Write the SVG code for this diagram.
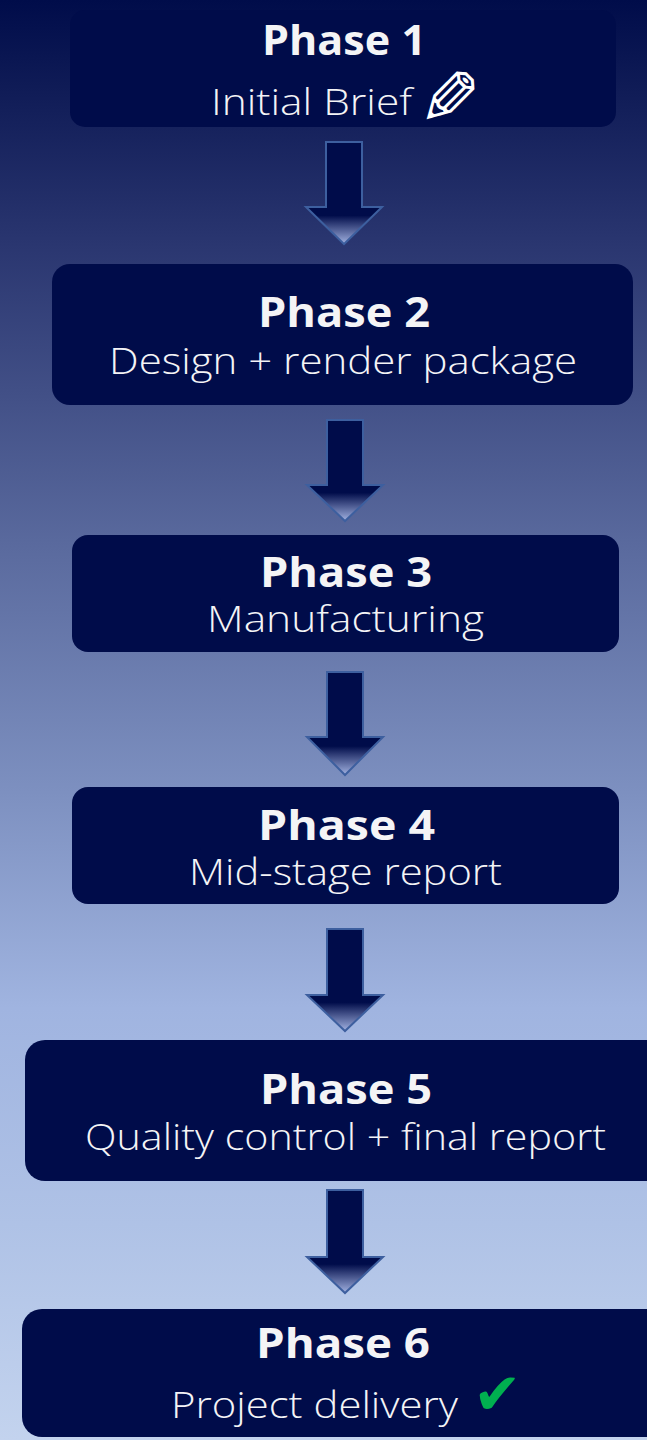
<svg xmlns="http://www.w3.org/2000/svg" width="647" height="1440" viewBox="0 0 647 1440">
<defs>
<linearGradient id="bg" x1="0" y1="0" x2="0" y2="1">
<stop offset="0" stop-color="#000c4a"/>
<stop offset="0.06" stop-color="#0f1b56"/>
<stop offset="0.17" stop-color="#2a3670"/>
<stop offset="0.38" stop-color="#5a6a9e"/>
<stop offset="0.55" stop-color="#7d90c0"/>
<stop offset="0.70" stop-color="#a0b4e0"/>
<stop offset="0.85" stop-color="#afc2e6"/>
<stop offset="1" stop-color="#c3d3ee"/>
</linearGradient>
<linearGradient id="arw" x1="0" y1="0" x2="0" y2="1">
<stop offset="0" stop-color="#000c4a"/>
<stop offset="0.72" stop-color="#000c4a"/>
<stop offset="1" stop-color="#a3b3e2"/>
</linearGradient>
<style>
.box{fill:#000c4a;}
.t{font-family:"Open Sans","Liberation Sans",sans-serif;font-weight:700;font-size:41px;fill:#f4f4f6;}
.s{font-family:"Open Sans","Liberation Sans",sans-serif;font-weight:300;font-size:36px;fill:#f4f4f6;}
.arrow{fill:url(#arw);stroke:#3d5f9f;stroke-width:2;stroke-linejoin:miter;}
</style>
</defs>
<rect x="0" y="0" width="647" height="1440" fill="url(#bg)"/>

<g id="connectors">
<polygon class="arrow" points="326,142 362,142 362,207 382,207 344,244 306,207 326,207"/>
<polygon class="arrow" points="327,420 363,420 363,485 383,485 345,521 307,485 327,485"/>
<polygon class="arrow" points="327,672 363,672 363,737 383,737 345,775 307,737 327,737"/>
<polygon class="arrow" points="327,929 363,929 363,995 383,995 345,1031 307,995 327,995"/>
<polygon class="arrow" points="327,1190 363,1190 363,1257 383,1257 345,1293 307,1257 327,1257"/>
</g>

<g id="phase1">
<rect class="box" x="70" y="10" width="546" height="117" rx="15"/>
<text class="t" x="262" y="55" textLength="164" lengthAdjust="spacingAndGlyphs">Phase 1</text>
<text class="s" x="211" y="115" textLength="201" lengthAdjust="spacingAndGlyphs">Initial Brief</text>
<text x="-481" y="125" transform="scale(-1,1)" font-family="DejaVu Sans,sans-serif" font-size="75" fill="#ffffff">✎</text>
</g>

<g id="phase2">
<rect class="box" x="52" y="264" width="581" height="141" rx="18"/>
<text class="t" x="258" y="327" textLength="172" lengthAdjust="spacingAndGlyphs">Phase 2</text>
<text class="s" x="109" y="374" textLength="468" lengthAdjust="spacingAndGlyphs">Design + render package</text>
</g>

<g id="phase3">
<rect class="box" x="72" y="535" width="547" height="117" rx="16"/>
<text class="t" x="260" y="587" textLength="172" lengthAdjust="spacingAndGlyphs">Phase 3</text>
<text class="s" x="207" y="632" textLength="277" lengthAdjust="spacingAndGlyphs">Manufacturing</text>
</g>

<g id="phase4">
<rect class="box" x="72" y="787" width="547" height="117" rx="16"/>
<text class="t" x="258" y="840" textLength="177" lengthAdjust="spacingAndGlyphs">Phase 4</text>
<text class="s" x="189" y="885" textLength="313" lengthAdjust="spacingAndGlyphs">Mid-stage report</text>
</g>

<g id="phase5">
<rect class="box" x="25" y="1040" width="640" height="141" rx="20"/>
<text class="t" x="260" y="1104" textLength="172" lengthAdjust="spacingAndGlyphs">Phase 5</text>
<text class="s" x="85" y="1150" textLength="521" lengthAdjust="spacingAndGlyphs">Quality control + final report</text>
</g>

<g id="phase6">
<rect class="box" x="22" y="1309" width="645" height="128" rx="20"/>
<text class="t" x="256" y="1358" textLength="174" lengthAdjust="spacingAndGlyphs">Phase 6</text>
<text class="s" x="171" y="1418" textLength="287" lengthAdjust="spacingAndGlyphs">Project delivery</text>
<text x="473" y="1414" font-family="DejaVu Sans,sans-serif" font-size="58" fill="#00b050">✔</text>
</g>
</svg>
